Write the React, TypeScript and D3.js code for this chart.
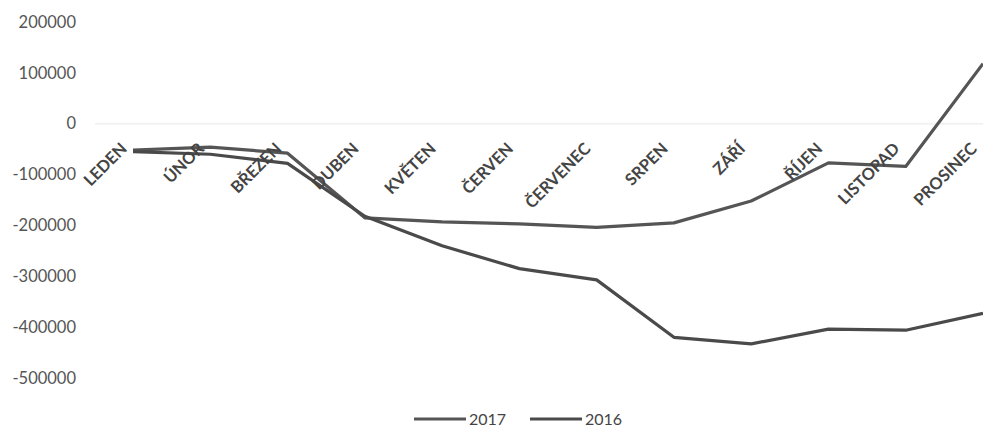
import * as d3 from 'd3';

// kategorie a hodnoty
const months = ['LEDEN', 'ÚNOR', 'BŘEZEN', 'DUBEN', 'KVĚTEN', 'ČERVEN', 'ČERVENEC', 'SRPEN', 'ZÁŘÍ', 'ŘÍJEN', 'LISTOPAD', 'PROSINEC'];
const values2017 = [-52000, -46000, -58000, -185000, -193000, -197000, -204000, -195000, -152000, -77000, -84000, 118000];
const values2016 = [-55000, -60000, -78000, -182000, -240000, -285000, -307000, -420000, -433000, -404000, -406000, -373000];
const yTicks = [200000, 100000, 0, -100000, -200000, -300000, -400000, -500000];

const series = [
  { name: '2017', values: values2017, color: '#555555' },
  { name: '2016', values: values2016, color: '#4a4a4a' },
];

const W = 983, H = 430;

export default function App() {
  const x = d3.scalePoint<string>().domain(months).range([133, 983]);
  const y = d3.scaleLinear().domain([-500000, 200000]).range([378, 22]);

  const line = d3.line<number>()
    .x((d, i) => x(months[i]) as number)
    .y(d => y(d));

  return (
    <svg width={W} height={H} style={{ position: 'fixed', left: 0, top: 0, background: '#fff' }}>
      {/* slabá linka osy na nule */}
      <line x1={95} x2={W} y1={y(0)} y2={y(0)} stroke="#f2f2f2" strokeWidth={2} />

      {yTicks.map(t => (
        <text key={t} x={76} y={y(t)} dy="0.35em" textAnchor="end"
          fontFamily="Lato, 'Open Sans', sans-serif" fontSize={16.5} fill="#555">
          {t}
        </text>
      ))}

      {series.map(s => (
        <path key={s.name} d={line(s.values) ?? ''} fill="none" stroke={s.color}
          strokeWidth={3.2} strokeLinejoin="round" />
      ))}

      {months.map(m => {
        const ax = (x(m) as number) - 5;
        const ay = y(0) + 26;
        return (
          <text key={m} x={ax} y={ay} transform={`rotate(-45 ${ax} ${ay})`} textAnchor="end"
            fontFamily="Lato, 'Open Sans', sans-serif" fontWeight={700} fontSize={16.5} fill="#444">
            {m}
          </text>
        );
      })}

      {/* legenda */}
      {series.map((s, i) => {
        const lx = 414 + i * 116;
        return (
          <g key={s.name}>
            <line x1={lx} x2={lx + 52} y1={419} y2={419} stroke={s.color} strokeWidth={3} />
            <text x={lx + 55} y={419} dy="0.35em" fontFamily="Lato, 'Open Sans', sans-serif"
              fontSize={16} fill="#444">{s.name}</text>
          </g>
        );
      })}
    </svg>
  );
}
